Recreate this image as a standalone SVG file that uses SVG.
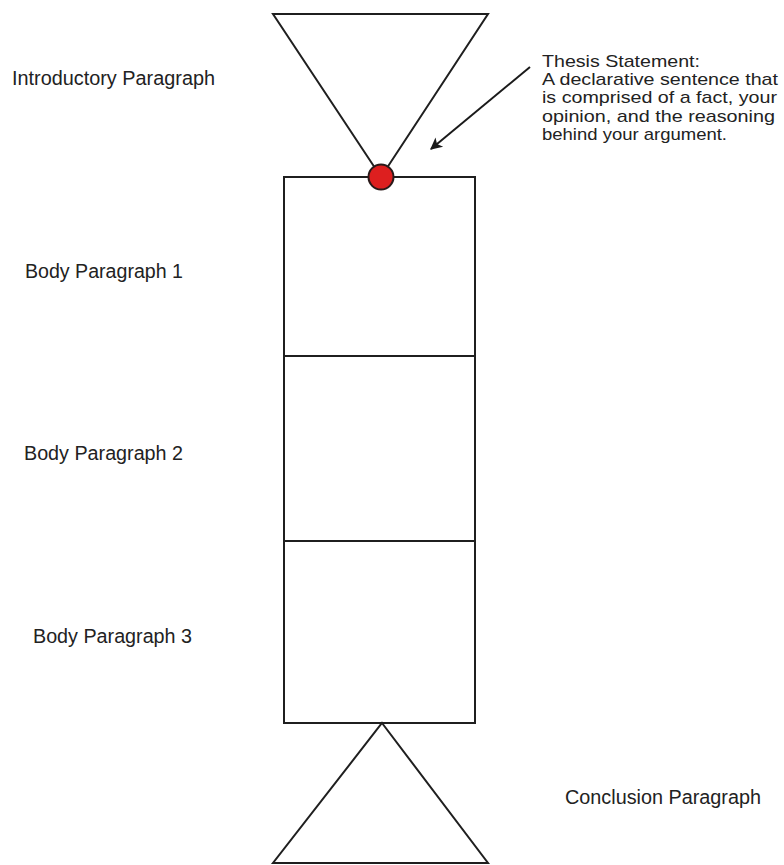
<svg xmlns="http://www.w3.org/2000/svg" width="784" height="865" viewBox="0 0 784 865">
  <defs>
    <marker id="arrowhead" viewBox="0 0 10 10" refX="9" refY="5" markerWidth="15" markerHeight="12" markerUnits="userSpaceOnUse" orient="auto">
      <path d="M0,0 L10,5 L0,10 L2.5,5 z" fill="#1a1a1a"/>
    </marker>
    <style>
      .shape { fill: #ffffff; stroke: #1f1f1f; stroke-width: 2; stroke-linejoin: miter; }
      .label { font-family: "Liberation Sans", Arial, sans-serif; font-size: 19.5px; fill: #222222; }
      .note { font-family: "Liberation Sans", Arial, sans-serif; font-size: 17px; fill: #222222; }
      .connector { stroke: #1a1a1a; stroke-width: 2; fill: none; }
    </style>
  </defs>

  <rect width="784" height="865" fill="#ffffff"/>

  <!-- introduction: inverted triangle -->
  <g id="intro">
    <polygon class="shape" points="273,14 488,14 381,177"/>
    <text class="label" x="12" y="85" textLength="203" lengthAdjust="spacingAndGlyphs">Introductory Paragraph</text>
  </g>

  <!-- body paragraphs stacked in one column -->
  <g id="body1">
    <rect class="shape" x="284" y="177" width="191" height="179"/>
    <text class="label" x="25" y="278" textLength="158" lengthAdjust="spacingAndGlyphs">Body Paragraph 1</text>
  </g>
  <g id="body2">
    <rect class="shape" x="284" y="356" width="191" height="185"/>
    <text class="label" x="24" y="460" textLength="159" lengthAdjust="spacingAndGlyphs">Body Paragraph 2</text>
  </g>
  <g id="body3">
    <rect class="shape" x="284" y="541" width="191" height="182"/>
    <text class="label" x="33" y="643" textLength="159" lengthAdjust="spacingAndGlyphs">Body Paragraph 3</text>
  </g>

  <!-- conclusion: upright triangle -->
  <g id="conclusion">
    <polygon class="shape" points="382,723 488,863 273,863"/>
    <text class="label" x="565" y="804" textLength="196" lengthAdjust="spacingAndGlyphs">Conclusion Paragraph</text>
  </g>

  <!-- thesis point where intro meets body -->
  <g id="thesis-point">
    <circle cx="381" cy="177" r="12.5" fill="#dd1f1f" stroke="#2a1a1a" stroke-width="2"/>
  </g>

  <g id="thesis-note">
    <text class="note" x="542" y="67" textLength="158" lengthAdjust="spacingAndGlyphs">Thesis Statement:</text>
    <text class="note" x="542" y="85" textLength="236" lengthAdjust="spacingAndGlyphs">A declarative sentence that</text>
    <text class="note" x="542" y="103" textLength="235" lengthAdjust="spacingAndGlyphs">is comprised of a fact, your</text>
    <text class="note" x="542" y="122" textLength="233" lengthAdjust="spacingAndGlyphs">opinion, and the reasoning</text>
    <text class="note" x="542" y="140" textLength="185" lengthAdjust="spacingAndGlyphs">behind your argument.</text>
  </g>

  <g id="connectors">
    <line class="connector" x1="530" y1="67" x2="431" y2="149" marker-end="url(#arrowhead)"/>
  </g>
</svg>
